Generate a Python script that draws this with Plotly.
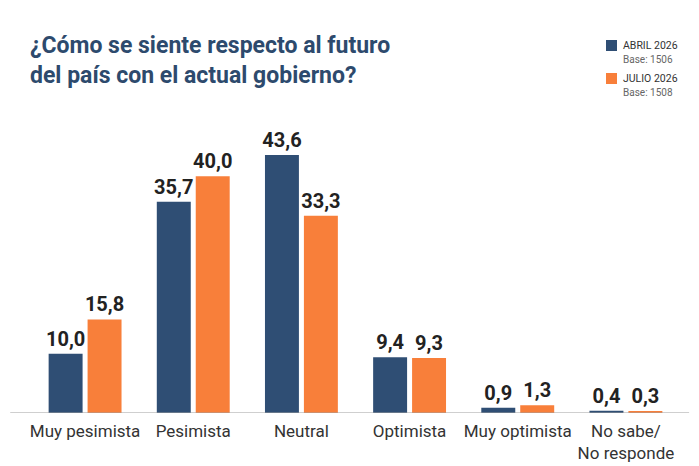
import plotly.graph_objects as go

categories = ["Muy pesimista", "Pesimista", "Neutral", "Optimista", "Muy optimista", "No sabe/<br>No responde"]
abril = [10.0, 35.7, 43.6, 9.4, 0.9, 0.4]
julio = [15.8, 40.0, 33.3, 9.3, 1.3, 0.3]
series_names = ["ABRIL 2026", "JULIO 2026"]
bases = ["Base: 1506", "Base: 1508"]

BLUE = "#2f4e74"
ORANGE = "#f87f3a"
W, H = 699, 466

def fmt(vals):
    return [f"{v:.1f}".replace(".", ",") for v in vals]

fig = go.Figure()
for name, vals, col in [(series_names[0], abril, BLUE), (series_names[1], julio, ORANGE)]:
    fig.add_trace(go.Bar(
        x=categories, y=vals, name=name,
        marker=dict(color=col, line=dict(width=0)),
        text=fmt(vals), textposition="outside", cliponaxis=False, constraintext="none",
        textfont=dict(family="Roboto", size=20, color="#222", weight="bold"),
    ))

fig.update_layout(
    width=W, height=H,
    margin=dict(l=31, r=19, t=117, b=53, autoexpand=False),
    paper_bgcolor="white", plot_bgcolor="white",
    barmode="group", bargap=0.28, bargroupgap=0.128,
    title=dict(
        text="¿Cómo se siente respecto al futuro<br>del país con el actual gobierno?",
        x=30/W, xanchor="left", xref="container",
        y=1-53/H, yanchor="top", yref="container",
        font=dict(family="Roboto", size=23, color="#2d4a6d", weight="bold"),
    ),
    showlegend=False,
    uniformtext=dict(mode=False),
    xaxis=dict(
        showline=False, showgrid=False, ticks="", zeroline=False, tickangle=0,
        ticklabelstandoff=6, automargin=False,
        tickfont=dict(family="Roboto", size=17, color="#333"),
    ),
    yaxis=dict(range=[0, 50], visible=False, showgrid=False, zeroline=False, automargin=False),
)
fig.add_shape(type="line", xref="paper", yref="y", x0=-0.032, x1=1.014, y0=0, y1=0,
              line=dict(color="#a0a0a0", width=1.2))

# manual legend
PW = W - 31 - 19
for i, (name, base, col) in enumerate(zip(series_names, bases, [BLUE, ORANGE])):
    top = 40 + i * 33
    fig.add_shape(type="rect", xref="paper", yref="paper",
                  x0=(606-31)/PW, x1=(617-31)/PW,
                  y0=(H-53-top-11)/296, y1=(H-53-top)/296,
                  fillcolor=col, line=dict(width=0))
    fig.add_annotation(xref="paper", yref="paper", x=(621-31)/PW, y=(H-53-top-5.5)/296,
                       text=name, showarrow=False, xanchor="left", yanchor="middle",
                       font=dict(family="Roboto", size=10.5, color="#333"))
    fig.add_annotation(xref="paper", yref="paper", x=(621-31)/PW, y=(H-53-top-19.5)/296,
                       text=base, showarrow=False, xanchor="left", yanchor="middle",
                       font=dict(family="Roboto", size=10, color="#666"))

fig.write_html("out.html")
